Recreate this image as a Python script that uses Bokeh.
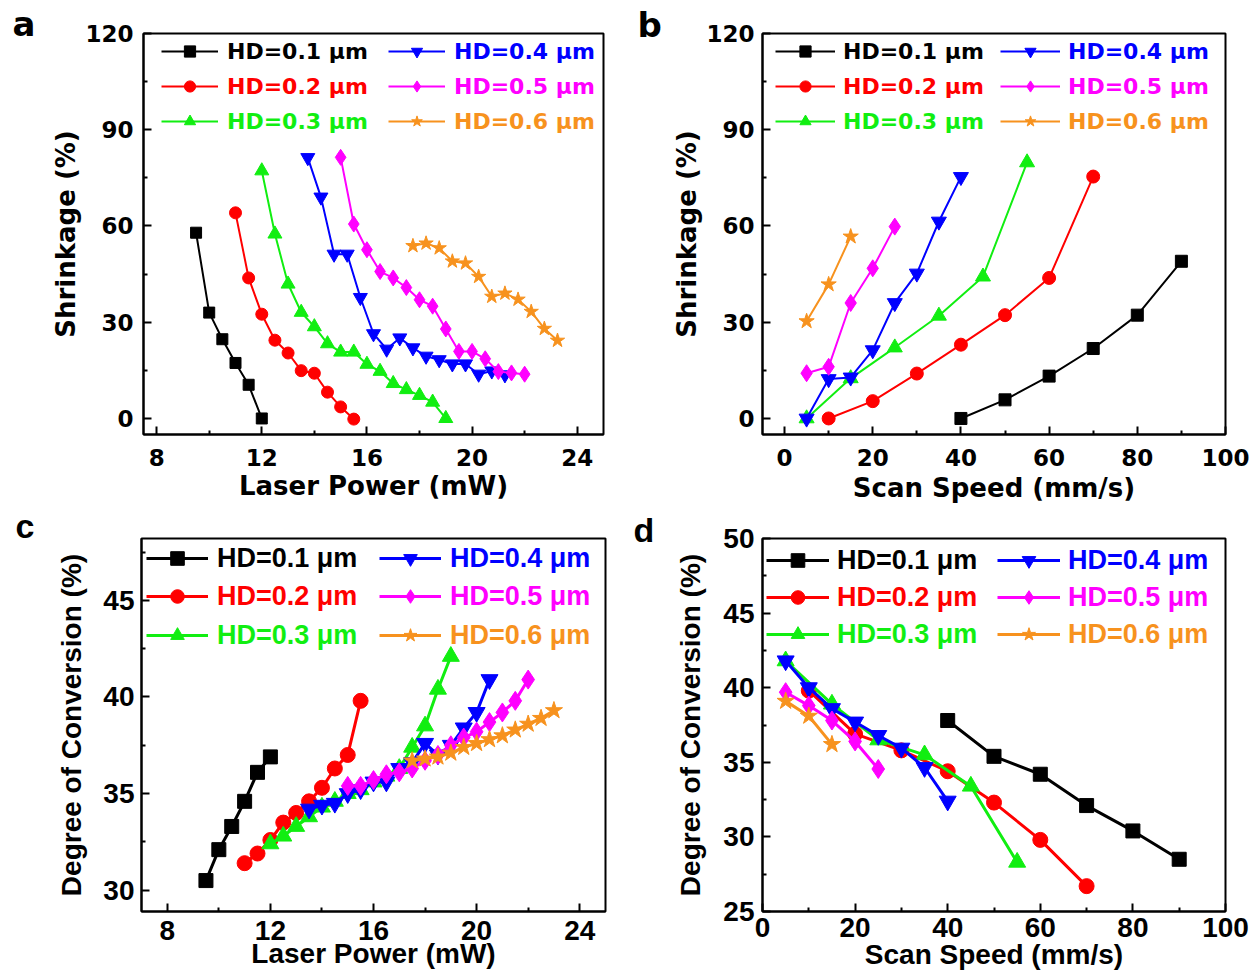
from bokeh.plotting import figure
from bokeh.models import Range1d, FixedTicker, Legend, LegendItem
from bokeh.layouts import column, row
from bokeh.embed import file_html
from bokeh.resources import INLINE

# ---------------- data ----------------
hd_labels = ["HD=0.1 μm", "HD=0.2 μm", "HD=0.3 μm", "HD=0.4 μm", "HD=0.5 μm", "HD=0.6 μm"]
colors = ["#000000", "#FF0000", "#11EE11", "#0000FF", "#FF00FF", "#F7921E"]
markers = ["square", "circle", "triangle", "inverted_triangle", "diamond", "star"]

# panel a: laser power (mW) -> shrinkage (%)
a_power_01 = [9.5, 10, 10.5, 11, 11.5, 12]
a_shrink_01 = [57.9, 33.0, 24.7, 17.3, 10.5, 0.0]
a_power_02 = [11, 11.5, 12, 12.5, 13, 13.5, 14, 14.5, 15, 15.5]
a_shrink_02 = [64.1, 43.8, 32.5, 24.4, 20.4, 14.9, 14.1, 8.2, 3.6, -0.2]
a_power_03 = [12, 12.5, 13, 13.5, 14, 14.5, 15, 15.5, 16, 16.5, 17, 17.5, 18, 18.5, 19]
a_shrink_03 = [77.2, 57.5, 41.9, 33.1, 28.6, 23.3, 20.7, 20.7, 16.9, 14.7, 10.9, 9.0, 7.2, 5.1, 0.0]
a_power_04 = [13.75, 14.25, 14.75, 15.25, 15.75, 16.25, 16.75, 17.25, 17.75, 18.25, 18.75, 19.25, 19.75, 20.25, 20.75, 21.25]
a_shrink_04 = [81.3, 69.0, 51.2, 51.2, 37.7, 26.4, 21.6, 25.1, 22.0, 19.4, 18.3, 17.0, 17.0, 13.8, 14.8, 13.6]
a_power_05 = [15, 15.5, 16, 16.5, 17, 17.5, 18, 18.5, 19, 19.5, 20, 20.5, 21, 21.5, 22]
a_shrink_05 = [81.4, 60.6, 52.6, 45.8, 43.8, 40.8, 37.0, 35.0, 27.9, 20.9, 20.9, 18.6, 14.6, 14.2, 13.8]
a_power_06 = [17.75, 18.25, 18.75, 19.25, 19.75, 20.25, 20.75, 21.25, 21.75, 22.25, 22.75, 23.25]
a_shrink_06 = [53.8, 54.6, 53.1, 49.0, 48.4, 44.2, 38.0, 39.0, 37.1, 33.3, 28.0, 24.3]

# panel b: scan speed (mm/s) -> shrinkage (%)
b_speed_01 = [40, 50, 60, 70, 80, 90]
b_shrink_01 = [0.0, 5.8, 13.2, 21.8, 32.2, 49.0]
b_speed_02 = [10, 20, 30, 40, 50, 60, 70]
b_shrink_02 = [0.0, 5.4, 14.0, 23.0, 32.2, 43.8, 75.4]
b_speed_03 = [5, 15, 25, 35, 45, 55]
b_shrink_03 = [0.0, 12.5, 22.1, 32.0, 44.2, 79.8]
b_speed_04 = [5, 10, 15, 20, 25, 30, 35, 40]
b_shrink_04 = [0.0, 12.3, 12.8, 21.3, 36.0, 45.2, 61.4, 75.3]
b_speed_05 = [5, 10, 15, 20, 25]
b_shrink_05 = [14.1, 16.1, 36.0, 46.8, 59.8]
b_speed_06 = [5, 10, 15]
b_shrink_06 = [30.3, 41.8, 56.7]

# panel c: laser power (mW) -> degree of conversion (%)
c_power_01 = [9.5, 10, 10.5, 11, 11.5, 12]
c_doc_01 = [30.5, 32.1, 33.3, 34.6, 36.1, 36.9]
c_power_02 = [11, 11.5, 12, 12.5, 13, 13.5, 14, 14.5, 15, 15.5]
c_doc_02 = [31.4, 31.9, 32.6, 33.5, 34.0, 34.6, 35.3, 36.3, 37.0, 39.8]
c_power_03 = [12, 12.5, 13, 13.5, 14, 14.5, 15, 15.5, 16, 16.5, 17, 17.5, 18, 18.5, 19]
c_doc_03 = [32.4, 32.8, 33.3, 33.8, 34.3, 34.6, 35.0, 35.2, 35.6, 35.9, 36.3, 37.4, 38.5, 40.4, 42.1]
c_power_04 = [13.5, 14, 14.5, 15, 15.5, 16, 16.5, 17, 17.5, 18, 18.5, 19, 19.5, 20, 20.5]
c_doc_04 = [34.2, 34.4, 34.5, 35.0, 35.2, 35.6, 35.6, 36.3, 36.6, 37.6, 37.0, 37.5, 38.4, 39.2, 40.9]
c_power_05 = [15, 15.5, 16, 16.5, 17, 17.5, 18, 18.5, 19, 19.5, 20, 20.5, 21, 21.5, 22]
c_doc_05 = [35.4, 35.4, 35.7, 36.0, 36.1, 36.3, 36.7, 37.0, 37.5, 37.9, 38.2, 38.7, 39.2, 39.8, 40.9]
c_power_06 = [17.5, 18, 18.5, 19, 19.5, 20, 20.5, 21, 21.5, 22, 22.5, 23]
c_doc_06 = [36.7, 36.8, 36.9, 37.1, 37.4, 37.6, 37.8, 38.0, 38.3, 38.6, 38.9, 39.3]

# panel d: scan speed (mm/s) -> degree of conversion (%)
d_speed_01 = [40, 50, 60, 70, 80, 90]
d_doc_01 = [37.8, 35.4, 34.2, 32.1, 30.4, 28.5]
d_speed_02 = [10, 20, 30, 40, 50, 60, 70]
d_doc_02 = [39.8, 36.9, 35.8, 34.4, 32.3, 29.8, 26.7]
d_speed_03 = [5, 15, 25, 35, 45, 55]
d_doc_03 = [41.8, 38.9, 36.5, 35.5, 33.4, 28.3]
d_speed_04 = [5, 10, 15, 20, 25, 30, 35, 40]
d_doc_04 = [41.8, 40.0, 38.6, 37.7, 36.8, 35.95, 34.65, 32.4]
d_speed_05 = [5, 10, 15, 20, 25]
d_doc_05 = [39.7, 38.8, 37.8, 36.4, 34.55]
d_speed_06 = [5, 10, 15]
d_doc_06 = [39.1, 38.1, 36.2]

# tick values
a_xticks = [8, 12, 16, 20, 24]
a_xminor = [10, 14, 18, 22]
shrink_yticks = [0, 30, 60, 90, 120]
shrink_yminor = [15, 45, 75, 105]
b_xticks = [0, 20, 40, 60, 80, 100]
b_xminor = [10, 30, 50, 70, 90]
c_yticks = [30, 35, 40, 45]
c_yminor = [32.5, 37.5, 42.5, 47.5]
d_yticks = [25, 30, 35, 40, 45, 50]
d_yminor = [27.5, 32.5, 37.5, 42.5, 47.5]


def build(cfg, xs, ys):
    p = figure(width=cfg["w"], height=cfg["h"],
               x_range=Range1d(*cfg["xr"]), y_range=Range1d(*cfg["yr"]),
               output_backend="svg", toolbar_location=None,
               min_border_left=cfg["bl"], min_border_right=cfg["br"],
               min_border_top=cfg["bt"], min_border_bottom=cfg["bb"])
    p.grid.visible = False
    p.outline_line_color = "black"
    p.outline_line_width = 2
    p.background_fill_color = "white"
    p.border_fill_color = "white"
    font = cfg["font"]
    for ax, ticks, minors, label, ls, ts in (
            (p.xaxis[0], cfg["xt"], cfg["xm"], cfg["xl"], cfg["xls"], cfg["xts"]),
            (p.yaxis[0], cfg["yt"], cfg["ym"], cfg["yl"], cfg["yls"], cfg["yts"])):
        ax.ticker = FixedTicker(ticks=ticks, minor_ticks=minors)
        ax.axis_label = label
        ax.axis_label_text_font = font
        ax.axis_label_text_font_style = "bold"
        ax.axis_label_text_font_size = cfg["title_fs"]
        ax.axis_label_text_color = "black"
        ax.axis_label_standoff = ts
        ax.major_label_text_font = font
        ax.major_label_text_font_style = "bold"
        ax.major_label_text_font_size = cfg["tick_fs"]
        ax.major_label_text_color = "black"
        ax.major_label_standoff = ls
        ax.major_tick_in = 8
        ax.major_tick_out = 0
        ax.minor_tick_in = 4
        ax.minor_tick_out = 0
        ax.major_tick_line_width = 2
        ax.minor_tick_line_width = 2
        ax.axis_line_width = 2
        ax.axis_line_color = "black"

    frame_left = cfg["frame_left"]
    frame_bottom = cfg["frame_bottom"]
    gh = cfg["glyph_h"]
    for i in range(6):
        lr = p.line(xs[i], ys[i], line_color=colors[i], line_width=cfg["lw"])
        sr = p.scatter(xs[i], ys[i], marker=markers[i], size=cfg["sizes"][i],
                       fill_color=colors[i], line_color=colors[i])
        col, r = divmod(i, 3)
        lx = cfg["leg_x"][col] - frame_left
        ly = frame_bottom - (cfg["leg_y"][r] + gh / 2)
        leg = Legend(items=[LegendItem(label=hd_labels[i], renderers=[lr, sr])],
                     location=(lx, ly), orientation="vertical",
                     border_line_color=None, background_fill_alpha=0,
                     padding=0, margin=0, spacing=0,
                     glyph_width=cfg["glyph_w"], glyph_height=gh, label_height=gh,
                     label_standoff=cfg["leg_standoff"],
                     label_text_font=font, label_text_font_style="bold",
                     label_text_font_size=cfg["leg_fs"], label_text_color=colors[i])
        p.add_layout(leg)

    # panel letter as the figure title, pulled to the left of the frame
    p.title.text = cfg["letter"]
    p.title.text_font = font
    p.title.text_font_style = "bold"
    p.title.text_font_size = cfg["letter_fs"]
    p.title.text_color = "black"
    p.title.align = "left"
    p.title.vertical_align = "bottom"
    p.title.offset = cfg["letter_left"] - frame_left
    p.title.standoff = cfg["letter_standoff"]
    return p


cfg_a = dict(w=630, h=505, bl=143, br=27, bt=33, bb=68, frame_left=143, frame_bottom=437,
             xr=(7.5, 25), yr=(-5, 120), xt=a_xticks, xm=a_xminor, yt=shrink_yticks, ym=shrink_yminor,
             xl="Laser Power (mW)", yl="Shrinkage (%)", xls=14, xts=2, yls=10, yts=1,
             font="DejaVu Sans", tick_fs="23px", title_fs="26px", leg_fs="22px",
             lw=2, sizes=[11, 12, 14, 14, 16, 15], glyph_w=57, glyph_h=28, leg_standoff=9,
             leg_x=[161, 388], leg_y=[54, 89, 124], letter="a", letter_left=12,
             letter_standoff=-20, letter_fs="34px")

cfg_b = dict(w=624, h=505, bl=132, br=29, bt=30, bb=70, frame_left=762, frame_bottom=435,
             xr=(-5, 100), yr=(-5, 120), xt=b_xticks, xm=b_xminor, yt=shrink_yticks, ym=shrink_yminor,
             xl="Scan Speed (mm/s)", yl="Shrinkage (%)", xls=14, xts=4, yls=8, yts=1,
             font="DejaVu Sans", tick_fs="23px", title_fs="26px", leg_fs="22px",
             lw=2, sizes=[12, 13, 15, 15, 17, 16], glyph_w=60, glyph_h=28, leg_standoff=8,
             leg_x=[775, 1000], leg_y=[52, 87, 122], letter="b", letter_left=637,
             letter_standoff=-22, letter_fs="34px")

cfg_c = dict(w=630, h=470, bl=141, br=25, bt=33, bb=62, frame_left=141, frame_bottom=913,
             xr=(7, 25), yr=(28.9, 48.2), xt=a_xticks, xm=a_xminor, yt=c_yticks, ym=c_yminor,
             xl="Laser Power (mW)", yl="Degree of Conversion (%)", xls=9, xts=-5, yls=7, yts=13,
             font="Liberation Sans", tick_fs="28px", title_fs="28px", leg_fs="27px",
             lw=3, sizes=[14, 15, 17, 17, 19, 18], glyph_w=62, glyph_h=34, leg_standoff=9,
             leg_x=[146, 379], leg_y=[560, 598, 637], letter="c", letter_left=15,
             letter_standoff=-12, letter_fs="34px")

cfg_d = dict(w=624, h=470, bl=132, br=29, bt=32, bb=64, frame_left=762, frame_bottom=911,
             xr=(0, 100), yr=(25, 50), xt=b_xticks, xm=b_xminor, yt=d_yticks, ym=d_yminor,
             xl="Scan Speed (mm/s)", yl="Degree of Conversion (%)", xls=6, xts=-1, yls=8, yts=14,
             font="Liberation Sans", tick_fs="28px", title_fs="28px", leg_fs="27px",
             lw=3, sizes=[14, 15, 17, 17, 19, 18], glyph_w=63, glyph_h=34, leg_standoff=8,
             leg_x=[766, 997], leg_y=[560, 597, 634], letter="d", letter_left=633,
             letter_standoff=-20, letter_fs="34px")

pa = build(cfg_a, [a_power_01, a_power_02, a_power_03, a_power_04, a_power_05, a_power_06],
           [a_shrink_01, a_shrink_02, a_shrink_03, a_shrink_04, a_shrink_05, a_shrink_06])
pb = build(cfg_b, [b_speed_01, b_speed_02, b_speed_03, b_speed_04, b_speed_05, b_speed_06],
           [b_shrink_01, b_shrink_02, b_shrink_03, b_shrink_04, b_shrink_05, b_shrink_06])
pc = build(cfg_c, [c_power_01, c_power_02, c_power_03, c_power_04, c_power_05, c_power_06],
           [c_doc_01, c_doc_02, c_doc_03, c_doc_04, c_doc_05, c_doc_06])
pd = build(cfg_d, [d_speed_01, d_speed_02, d_speed_03, d_speed_04, d_speed_05, d_speed_06],
           [d_doc_01, d_doc_02, d_doc_03, d_doc_04, d_doc_05, d_doc_06])

layout = column(row(pa, pb), row(pc, pd))
open("out.html", "w").write(file_html(layout, INLINE))
